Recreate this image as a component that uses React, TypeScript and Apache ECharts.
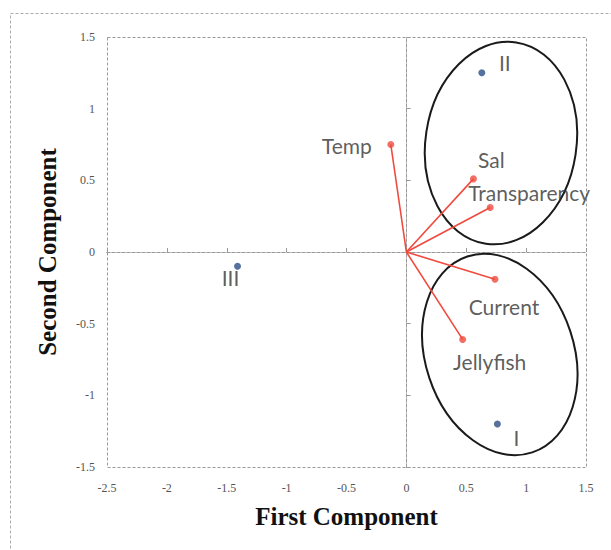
import React, { useEffect, useRef } from "react";
import * as echarts from "echarts";

// ---- data ----
const groupNames = ["I", "II", "III"];
const groupX = [0.76, 0.63, -1.41];
const groupY = [-1.2, 1.25, -0.1];

const varNames = ["Temp", "Sal", "Transparency", "Current", "Jellyfish"];
const varX = [-0.13, 0.56, 0.7, 0.74, 0.47];
const varY = [0.75, 0.51, 0.31, -0.19, -0.61];

const ellipseCX = [0.79, 0.78];
const ellipseCY = [0.76, -0.715];
const ellipseRX = [0.63, 0.62];
const ellipseRY = [0.71, 0.72];

const xMin = -2.5;
const xMax = 1.5;
const yMin = -1.5;
const yMax = 1.5;
const tickStep = 0.5;

const xTitle = "First Component";
const yTitle = "Second Component";

// ---- styles / layout ----
const groupLabelOffsets = [
  [19, 13],
  [23, -10],
  [-7, 11],
];
const varLabelOffsets = [
  [-44, 1],
  [18, -19],
  [39, -15],
  [9, 27],
  [27, 22],
];
const ellipseRotation = [-0.15, 0.32];

const GRID = { left: 107, top: 37, width: 479, height: 430 };
const RED = "#f04a3e";
const BLUE = "#2c4d86";
const LABEL_FONT = "Lato";
const LABEL_SIZE = 21;
const TITLE_SIZE = 25;

export default function App() {
  const ref = useRef<HTMLDivElement>(null);

  useEffect(() => {
    if (!ref.current) return;
    const chart = echarts.init(ref.current, null, { renderer: "svg" });

    const tickLabelStyle = {
      fontFamily: "Liberation Serif",
      fontSize: 12,
      color: "#555",
    };
    const dashLine = { color: "#999", width: 1, type: [3, 2] as any };

    const zeroAxisCommon = {
      type: "value",
      interval: tickStep,
      axisLine: { show: true, onZero: true, onZeroAxisIndex: 0, lineStyle: dashLine },
      axisTick: { show: true, length: 4, lineStyle: { color: "#999" } },
      axisLabel: { show: false },
      splitLine: { show: false },
    };

    const vectorSeries = varNames.map((n, i) => ({
      type: "line",
      name: n,
      xAxisIndex: 0,
      yAxisIndex: 0,
      data: [
        [0, 0],
        [varX[i], varY[i]],
      ],
      showSymbol: false,
      symbol: "none",
      lineStyle: { color: RED, width: 1.6 },
      z: 3,
      silent: true,
    }));

    const titleStyle = {
      fontFamily: "Liberation Serif",
      fontWeight: "bold",
      fontSize: TITLE_SIZE,
      color: "#111",
    };

    const option: any = {
      animation: false,
      backgroundColor: "#fff",
      grid: {
        left: GRID.left,
        top: GRID.top,
        width: GRID.width,
        height: GRID.height,
        containLabel: false,
      },
      xAxis: [
        {
          type: "value",
          min: xMin,
          max: xMax,
          interval: tickStep,
          position: "bottom",
          axisLine: { show: false, onZero: false },
          axisTick: { show: false },
          splitLine: { show: false },
          axisLabel: { ...tickLabelStyle, margin: 15 },
          name: xTitle,
          nameLocation: "middle",
          nameGap: 37,
          nameTextStyle: titleStyle,
        },
        { ...zeroAxisCommon, min: xMin, max: xMax, position: "top" },
        { ...zeroAxisCommon, min: xMin, max: xMax, position: "top" },
      ],
      yAxis: [
        {
          type: "value",
          min: yMin,
          max: yMax,
          interval: tickStep,
          position: "left",
          axisLine: { show: false, onZero: false },
          axisTick: { show: false },
          splitLine: { show: false },
          axisLabel: { ...tickLabelStyle, margin: 12 },
          name: yTitle,
          nameLocation: "middle",
          nameGap: 47,
          nameRotate: 90,
          nameTextStyle: titleStyle,
        },
        { ...zeroAxisCommon, min: yMin, max: yMax, position: "right" },
        { ...zeroAxisCommon, min: yMin, max: yMax, position: "right" },
      ],
      graphic: [
        {
          type: "rect",
          shape: { x: 10.5, y: 13.5, width: 700, height: 700 },
          style: { fill: "none", stroke: "#aaa", lineWidth: 1, lineDash: [3, 2] },
          silent: true,
          z: 0,
        },
        {
          type: "rect",
          shape: { x: GRID.left + 0.5, y: GRID.top + 0.5, width: GRID.width, height: GRID.height },
          style: { fill: "none", stroke: "#999", lineWidth: 1, lineDash: [3, 2] },
          silent: true,
          z: 0,
        },
      ],
      series: [
        {
          type: "custom",
          xAxisIndex: 0,
          yAxisIndex: 0,
          silent: true,
          z: 2,
          data: ellipseCX.map((cx, i) => [cx, ellipseCY[i], ellipseRX[i], ellipseRY[i], i]),
          renderItem: (params: any, api: any) => {
            const c = api.coord([api.value(0), api.value(1)]);
            const rx = api.size([api.value(2), 0])[0];
            const ry = api.size([0, api.value(3)])[1];
            const idx = api.value(4);
            return {
              type: "ellipse",
              x: c[0],
              y: c[1],
              rotation: ellipseRotation[idx],
              shape: { cx: 0, cy: 0, rx, ry },
              style: { fill: "none", stroke: "#1a1a1a", lineWidth: 2 },
            };
          },
        },
        ...vectorSeries,
        {
          type: "scatter",
          xAxisIndex: 0,
          yAxisIndex: 0,
          symbol: "circle",
          symbolSize: 7,
          itemStyle: { color: RED },
          z: 4,
          data: varNames.map((n, i) => ({
            name: n,
            value: [varX[i], varY[i]],
            label: {
              show: true,
              formatter: n,
              position: "inside",
              offset: varLabelOffsets[i],
              fontFamily: LABEL_FONT,
              fontSize: LABEL_SIZE,
              color: "#333",
            },
          })),
        },
        {
          type: "scatter",
          xAxisIndex: 0,
          yAxisIndex: 0,
          symbol: "circle",
          symbolSize: 7,
          itemStyle: { color: BLUE },
          z: 4,
          data: groupNames.map((n, i) => ({
            name: n,
            value: [groupX[i], groupY[i]],
            label: {
              show: true,
              formatter: n,
              position: "inside",
              offset: groupLabelOffsets[i],
              fontFamily: LABEL_FONT,
              fontSize: LABEL_SIZE,
              color: "#333",
            },
          })),
        },
      ],
    };

    chart.setOption(option);
    return () => chart.dispose();
  }, []);

  return (
    <div
      ref={ref}
      style={{ position: "fixed", left: 0, top: 0, width: 611, height: 550 }}
    />
  );
}
